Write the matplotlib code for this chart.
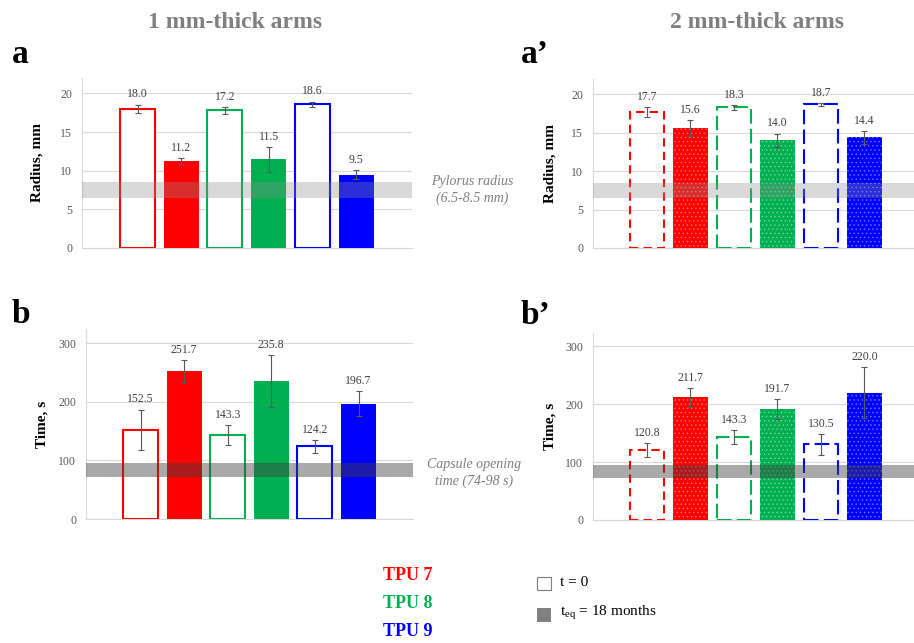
import numpy as np
import matplotlib.pyplot as plt
from matplotlib.patches import Rectangle

plt.rcParams['font.family'] = ['Liberation Serif', 'DejaVu Serif']
plt.rcParams['mathtext.fontset'] = 'custom'
plt.rcParams['mathtext.rm'] = 'Liberation Serif'
plt.rcParams['hatch.linewidth'] = 0.6

# data
tpu = ['TPU 7', 'TPU 8', 'TPU 9']
colors = ['#ff0000', '#00b050', '#0000ff']

# 1 mm-thick arms, radius (mm)
rad1_t0 = [18.0, 17.8, 18.6]
rad1_t0_lbl = ['18.0', '17.2', '18.6']
rad1_t0_err = [0.55, 0.4, 0.35]
rad1_aged = [11.2, 11.5, 9.5]
rad1_aged_err = [0.4, 1.6, 0.6]

# 2 mm-thick arms, radius (mm)
rad2_t0 = [17.7, 18.3, 18.7]
rad2_t0_err = [0.65, 0.35, 0.15]
rad2_aged = [15.6, 14.0, 14.4]
rad2_aged_err = [1.0, 0.9, 0.85]

# 1 mm-thick arms, opening time (s)
time1_t0 = [152.5, 143.3, 124.2]
time1_t0_err = [34, 17, 11]
time1_aged = [251.7, 235.8, 196.7]
time1_aged_err = [20, 44, 21]

# 2 mm-thick arms, opening time (s)
time2_t0 = [120.8, 143.3, 130.5]
time2_t0_err = [12, 12, 18]
time2_aged = [211.7, 191.7, 220.0]
time2_aged_err = [16, 17, 44]

pylorus = (6.5, 8.5)
capsule = (72, 95)


def panel(ax, t0, t0_err, aged, aged_err, ylim, yticks, band, band_col, band_alpha,
          primed, xlim, ylabel, t0_lbl=None):
    if t0_lbl is None:
        t0_lbl = [f'{v:.1f}' for v in t0]
    for i in range(3):
        c = colors[i]
        x0, x1 = 2 * i, 2 * i + 1
        if primed:
            dash = (4, 2.5) if i == 0 else (7, 2.5)
            ax.bar(x0, t0[i], 0.8, facecolor='none', edgecolor=c, lw=1.5,
                   linestyle=(0, dash), zorder=3)
            ax.bar(x1, aged[i], 0.8, color=c, lw=0, zorder=3)
            ax.bar(x1, aged[i], 0.8, facecolor='none', edgecolor='#ffffff',
                   hatch='....', lw=0, alpha=0.35, zorder=3)
        else:
            ax.bar(x0, t0[i], 0.8, facecolor='white', edgecolor=c, lw=1.5, zorder=3)
            ax.bar(x1, aged[i], 0.8, color=c, lw=0, zorder=3)
        ax.errorbar([x0, x1], [t0[i], aged[i]], yerr=[t0_err[i], aged_err[i]],
                    fmt='none', ecolor='#595959', elinewidth=0.8, capsize=2,
                    capthick=0.8, zorder=5)
        for x, v, e, s in [(x0, t0[i], t0_err[i], t0_lbl[i]),
                           (x1, aged[i], aged_err[i], f'{aged[i]:.1f}')]:
            ax.annotate(s, (x, v + e), xytext=(0, 3), textcoords='offset points',
                        ha='center', va='bottom', fontsize=8.5, color='#404040')
    ax.axhspan(band[0], band[1], color=band_col, alpha=band_alpha, lw=0, zorder=4)
    ax.set_xlim(*xlim)
    ax.set_ylim(*ylim)
    ax.set_yticks(yticks)
    ax.set_xticks([])
    ax.grid(axis='y', color='#d9d9d9', lw=0.8, zorder=0)
    ax.set_axisbelow(True)
    for s in ['top', 'right']:
        ax.spines[s].set_visible(False)
    for s in ['left', 'bottom']:
        ax.spines[s].set_color('#d9d9d9')
        ax.spines[s].set_linewidth(0.8)
    ax.tick_params(axis='y', length=0, pad=7, labelsize=8.5, labelcolor='#595959')
    ax.set_ylabel(ylabel, fontsize=11, fontweight='bold')
    ax.yaxis.label.set_va('center')
    ax.yaxis.set_label_coords(-0.135, 0.5)


fig = plt.figure(figsize=(9.14, 6.43), dpi=100)
W, H = 914, 643


def add_ax(l, r, t, b):
    return fig.add_axes([l / W, 1 - b / H, (r - l) / W, (b - t) / H])


ax_a = add_ax(82, 412, 78, 248)
ax_a2 = add_ax(593, 914, 79, 248)
ax_b = add_ax(86, 413, 329, 519)
ax_b2 = add_ax(593, 914, 333, 520)

panel(ax_a, rad1_t0, rad1_t0_err, rad1_aged, rad1_aged_err, (0, 22), [0, 5, 10, 15, 20],
      pylorus, '#8c8c8c', 0.33, False, (-1.27, 6.28), 'Radius, mm', rad1_t0_lbl)
panel(ax_a2, rad2_t0, rad2_t0_err, rad2_aged, rad2_aged_err, (0, 22), [0, 5, 10, 15, 20],
      pylorus, '#8c8c8c', 0.33, True, (-1.24, 6.14), 'Radius, mm')
panel(ax_b, time1_t0, time1_t0_err, time1_aged, time1_aged_err, (0, 324), [0, 100, 200, 300],
      capsule, '#404040', 0.45, False, (-1.25, 6.25), 'Time, s')
panel(ax_b2, time2_t0, time2_t0_err, time2_aged, time2_aged_err, (0, 323), [0, 100, 200, 300],
      capsule, '#404040', 0.45, True, (-1.24, 6.14), 'Time, s')

# column titles and panel letters
fig.text(235 / W, 1 - 22 / H, '1 mm-thick arms', ha='center', va='center',
         fontsize=17, fontweight='bold', color='#7f7f7f')
fig.text(757 / W, 1 - 22 / H, '2 mm-thick arms', ha='center', va='center',
         fontsize=17, fontweight='bold', color='#7f7f7f')
for s, x, y in [('a', 12, 63), ('a\u2019', 521, 63), ('b', 12, 323), ('b\u2019', 521, 324)]:
    fig.text(x / W, 1 - y / H, s, ha='left', va='baseline', fontsize=24, fontweight='bold')

# band notes
fig.text(472 / W, 1 - 190 / H, 'Pylorus radius\n(6.5-8.5 mm)', ha='center', va='center',
         fontsize=10, style='italic', color='#7f7f7f', linespacing=1.3)
fig.text(474 / W, 1 - 473 / H, 'Capsule opening\ntime (74-98 s)', ha='center', va='center',
         fontsize=10, style='italic', color='#7f7f7f', linespacing=1.3)

# legend
for name, c, y in zip(tpu, colors, [576, 604, 632]):
    fig.text(383 / W, 1 - y / H, name, ha='left', va='center', fontsize=13,
             fontweight='bold', color=c)
fig.patches.append(Rectangle((537 / W, 1 - 590 / H), 14 / W, 13 / H, facecolor='white',
                             edgecolor='#7f7f7f', lw=0.8, transform=fig.transFigure))
fig.patches.append(Rectangle((537 / W, 1 - 622 / H), 14 / W, 14 / H, facecolor='#808080',
                             edgecolor='none', transform=fig.transFigure))
fig.text(560 / W, 1 - 583 / H, 't = 0', ha='left', va='center', fontsize=11)
fig.text(560 / W, 1 - 613 / H, 't$_{\\mathrm{eq}}$ = 18 months', ha='left', va='center',
         fontsize=11)

fig.savefig('out.png', dpi=100)
